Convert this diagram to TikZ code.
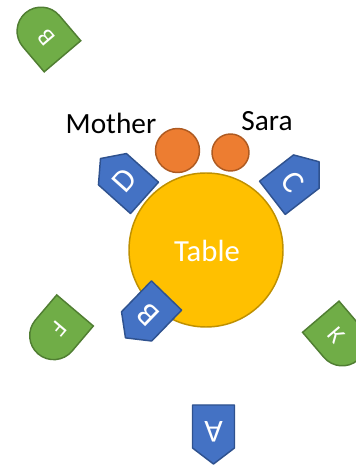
\documentclass[tikz,border=0pt]{standalone}
\usepackage{fontspec}
\setmainfont{Carlito}
\usetikzlibrary{positioning}
\definecolor{tableyellow}{HTML}{FFC000}
\definecolor{tableedge}{HTML}{BF9000}
\definecolor{personorange}{HTML}{ED7D31}
\definecolor{personedge}{HTML}{AE5A21}
\definecolor{seatblue}{HTML}{4472C4}
\definecolor{seatblueedge}{HTML}{2F528F}
\definecolor{seatgreen}{HTML}{70AD47}
\definecolor{seatgreenedge}{HTML}{507E32}
\tikzstyle{tablenode}=[circle,fill=tableyellow,draw=tableedge,line width=1.1pt,minimum size=115.5pt,inner sep=0pt]
\tikzstyle{person}=[circle,fill=personorange,draw=personedge,line width=1.1pt,inner sep=0pt]
\tikzstyle{namelabel}=[inner sep=0pt,anchor=base,font=\fontsize{22}{26}\selectfont]
\tikzstyle{blueseat}=[fill=seatblue,draw=seatblueedge,line width=1.1pt,line join=round]
\tikzstyle{greenseat}=[fill=seatgreen,draw=seatgreenedge,line width=1.1pt]
\tikzstyle{seatletter}=[text=white,inner sep=0pt,font=\fontsize{24}{28}\selectfont]
\tikzstyle{benchletter}=[text=white,inner sep=0pt,font=\fontsize{18}{22}\selectfont]

\begin{document}
\begin{tikzpicture}[x=0.75pt,y=0.75pt]
    \useasboundingbox (0,0) rectangle (355,466);
    % the table and the two people at it
    \node[tablenode] (table) at (206,216) {};
    \node[namelabel,text=white,font=\fontsize{23}{27}\selectfont] (tablelabel) at (207,204) {Table};
    \node[person,minimum size=33pt] (mother) at (177.5,315.5) {};
    \node[person,minimum size=27.75pt] (sara) at (230.5,313.5) {};
    \node[namelabel] (motherlabel) at (111,332) {Mother};
    \node[namelabel] (saralabel) at (267,335) {Sara};
    % blue seats, point turned away from the table
    \foreach \x/\y/\ang/\name/\txt in {213.5/31.5/180/seatA/A, 122.5/287.8/48.2/seatD/D,
                                      295.7/286.2/-52.3/seatC/C, 146/149.3/135.9/seatB/B}
    {
        \begin{scope}[shift={(\x,\y)},rotate=\ang]
            \path[blueseat] (-21,-29.5) -- (21,-29.5) -- (21,13.5) -- (0,29.5) -- (-21,13.5) -- cycle;
            \node[seatletter,rotate=\ang] (\name) at (0,-3) {\txt};
        \end{scope}
    }
    % green seats, flat side to the table, round end outside
    \foreach \x/\y/\ang/\name/\txt in {56.6/133.8/229.7/benchF/F, 44/431.4/130.4/benchB/B,
                                      339.3/127.6/-49.5/benchK/K}
    {
        \begin{scope}[shift={(\x,\y)},rotate=\ang]
            \path[greenseat] (-28.5,24) -- (-28.5,-24) -- (4.5,-24) arc[start angle=-90,end angle=90,radius=24] -- cycle;
            \node[benchletter,rotate=\ang] (\name) at (-4,0) {\txt};
        \end{scope}
    }
\end{tikzpicture}
\end{document}
